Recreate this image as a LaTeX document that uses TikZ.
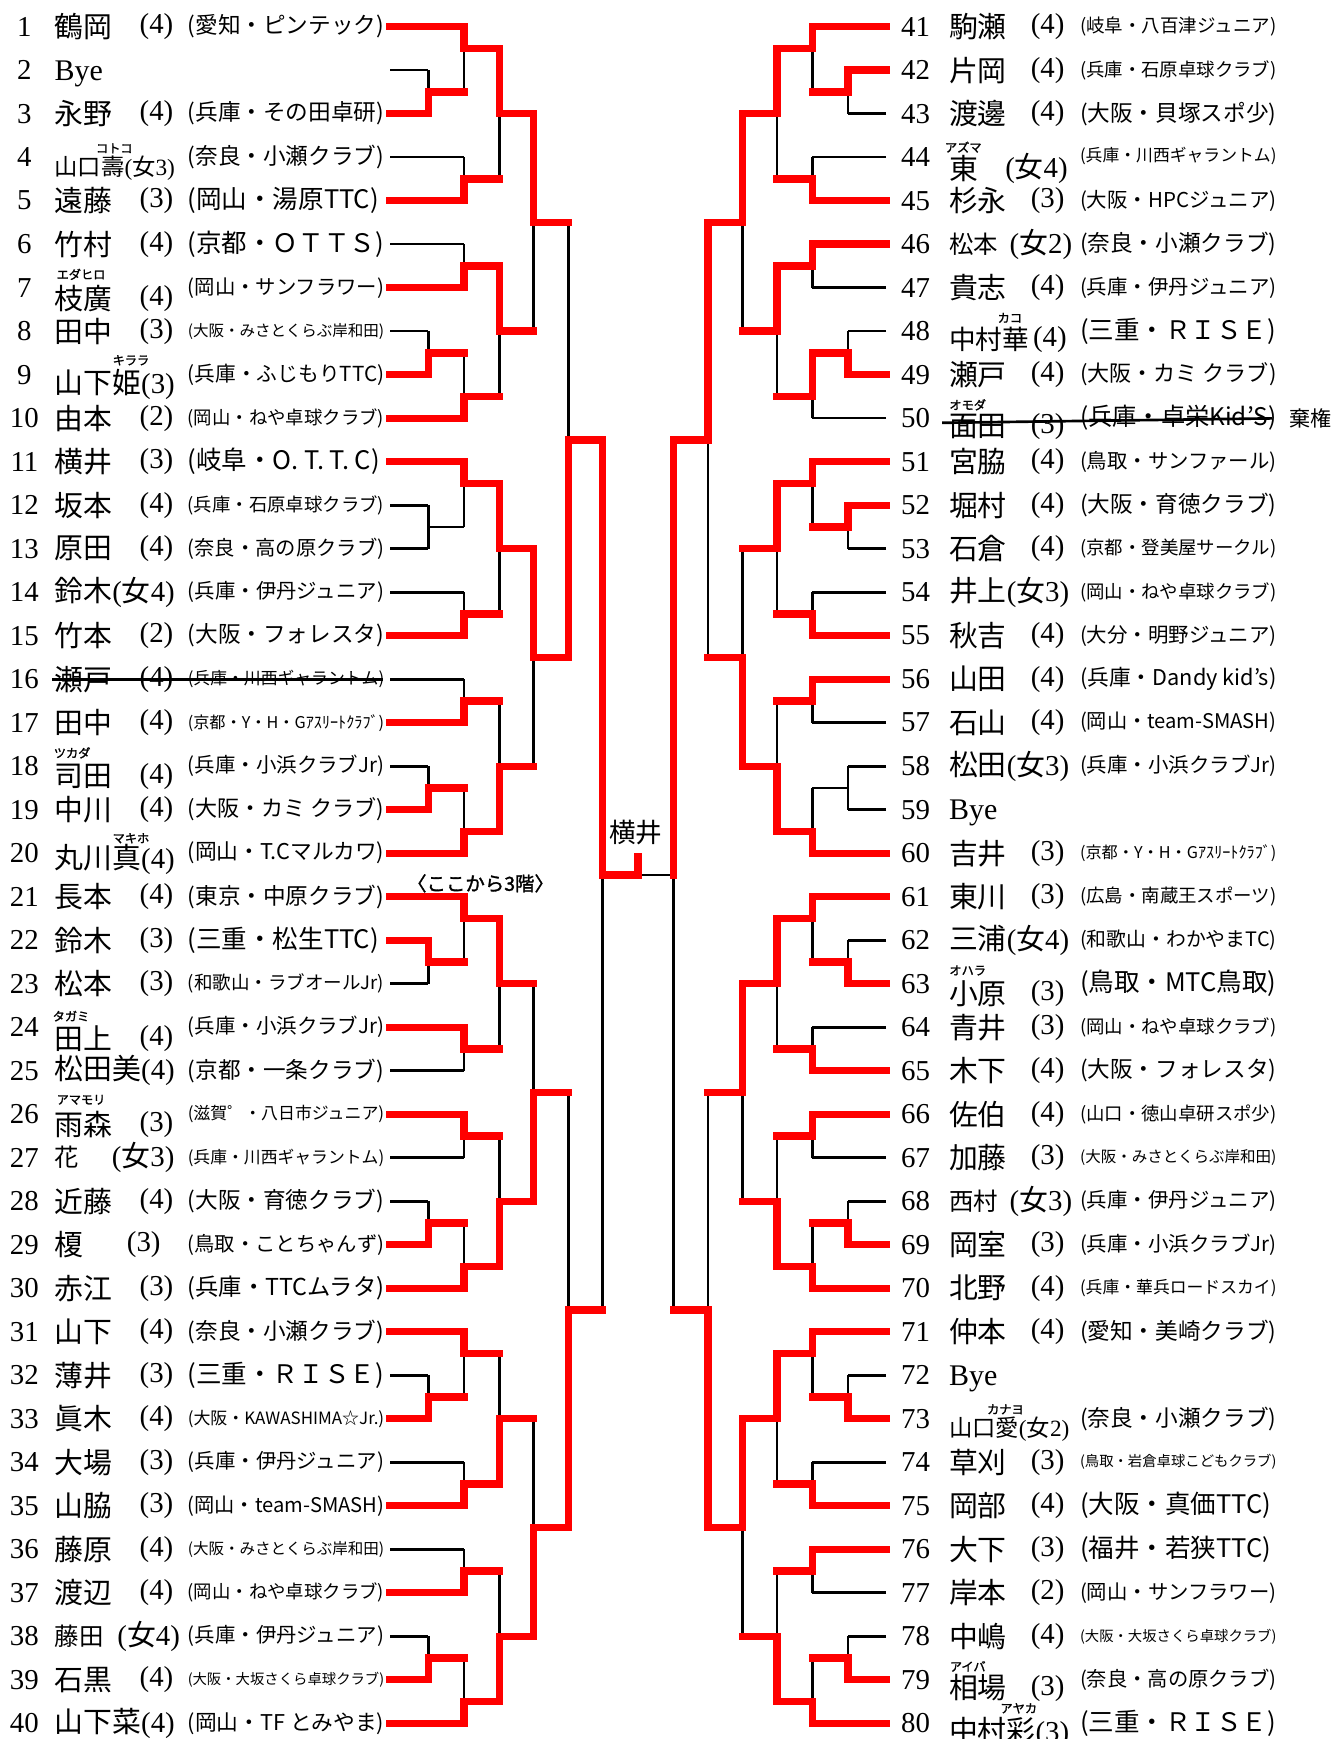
\documentclass[tikz,border=0pt]{standalone}
\usepackage{fontspec}
\usepackage{graphicx}
\setmainfont{Noto Sans CJK JP}
\newfontfamily\sr{Liberation Serif}
\newfontfamily\rbf[FakeBold=1.5]{Noto Sans CJK JP}
\pgfdeclarelayer{bg}
\pgfsetlayers{bg,main}
\newsavebox\clbox
\newcommand\fitclub[1]{\sbox\clbox{\fontsize{23}{26}\selectfont #1}\ifdim\wd\clbox>177pt\relax\resizebox{177pt}{!}{\usebox\clbox}\else\usebox\clbox\fi}
\newcommand\Yj[1]{24+19.6*(#1)}
\newcommand\fj[1]{{\sr(}{\rmfamily 女}{\sr #1)}}
\newcommand\LA{351.5}\newcommand\LB{386}\newcommand\LC{418}\newcommand\LD{450}
\newcommand\LE{481}\newcommand\LF{512}\newcommand\LG{543}
\newcommand\RA{798.5}\newcommand\RB{764}\newcommand\RC{732}\newcommand\RD{700}
\newcommand\RE{669}\newcommand\RF{638}\newcommand\RG{607}
\tikzset{
  num/.style={font=\sr\fontsize{26}{28}\selectfont, inner sep=0pt},
  nm/.style={font=\fontsize{26}{28}\selectfont, inner sep=0pt, anchor=west},
  sd/.style={font=\sr\fontsize{26}{28}\selectfont, inner sep=0pt},
  cl/.style={inner sep=0pt, anchor=west},
  rb/.style={font=\rbf\fontsize{11}{12}\selectfont, inner sep=0pt},
  byetxt/.style={font=\sr\fontsize{27}{28}\selectfont, inner sep=0pt, anchor=base west},
  redl/.style={line width=6.6pt, red, line cap=rect},
  blkl/.style={line width=2.4pt, black},
}
\newcommand\Edge[6]{%
  \ifx r#5\draw[redl] (#1,{\Yj{#3}}) -- (#2,{\Yj{#3}});%
  \else\begin{pgfonlayer}{bg}\draw[blkl] (#1,{\Yj{#3}}) -- (#2,{\Yj{#3}});\end{pgfonlayer}\fi
  \ifx r#6\draw[redl] (#2,{\Yj{#3}}) -- (#2,{\Yj{#4}});%
  \else\begin{pgfonlayer}{bg}\draw[blkl] (#2,{\Yj{#3}}) -- (#2,{\Yj{#4}});\end{pgfonlayer}\fi}
\newcommand\RowL[4]{\pgfmathsetmacro\yy{24+39.2*(#1-1)}%
  \node[num] (n#1) at (22,\yy) {#1};
  \node[nm] (a#1) at (49,\yy) {#2};
  \node[sd] (s#1) at (141,\yy) {#3};
  \node[cl] (c#1) at (169,\yy) {\fitclub{#4}};}
\newcommand\RowR[4]{\pgfmathsetmacro\yy{24+39.2*(#1-41)}%
  \node[num] (n#1) at (825,\yy) {#1};
  \node[nm] (a#1) at (855,\yy) {#2};
  \node[sd] (s#1) at (944,\yy) {#3};
  \node[cl] (c#1) at (973,\yy) {\fitclub{#4}};}
\newcommand\RubyL[8]{\pgfmathsetmacro\yy{24+39.2*(#1-1)}%
  \node[num] (n#1) at (22,\yy) {#1};
  \node[nm] (a#1) at (49,{\yy+#5}) {#2};
  \node[sd] (s#1) at (141,{\yy+#5}) {#3};
  \node[cl] (c#1) at (169,\yy) {\fitclub{#4}};
  \node[rb] (r#1) at (#7,{\yy+#8}) {#6};}
\newcommand\RubyR[8]{\pgfmathsetmacro\yy{24+39.2*(#1-41)}%
  \node[num] (n#1) at (825,\yy) {#1};
  \node[nm] (a#1) at (855,{\yy+#5}) {#2};
  \node[sd] (s#1) at (944,{\yy+#5}) {#3};
  \node[cl] (c#1) at (973,\yy) {\fitclub{#4}};
  \node[rb] (r#1) at (#7,{\yy+#8}) {#6};}
\begin{document}
\begin{tikzpicture}[x=1pt,y=-1pt]
\begin{pgfonlayer}{bg}\fill[white] (0,0) rectangle (1203,1567);\end{pgfonlayer}
\useasboundingbox (0,0) rectangle (1203,1567);
% ---------------- left bracket ----------------
\Edge{\LA}{\LB}{2}{3}{k}{k}
\Edge{\LA}{\LB}{4}{3}{r}{r}
\Edge{\LB}{\LC}{3}{1}{r}{k}
\Edge{\LA}{\LC}{0}{1}{r}{r}
\Edge{\LA}{\LC}{6}{7}{k}{k}
\Edge{\LA}{\LC}{8}{7}{r}{r}
\Edge{\LC}{\LD}{1}{4}{r}{r}
\Edge{\LC}{\LD}{7}{4}{r}{k}
\Edge{\LD}{\LE}{4}{9}{r}{r}
\Edge{\LA}{\LC}{10}{11}{k}{k}
\Edge{\LA}{\LC}{12}{11}{r}{r}
\Edge{\LA}{\LB}{14}{15}{k}{k}
\Edge{\LA}{\LB}{16}{15}{r}{r}
\Edge{\LB}{\LC}{15}{17}{r}{k}
\Edge{\LA}{\LC}{18}{17}{r}{r}
\Edge{\LC}{\LD}{11}{14}{r}{r}
\Edge{\LC}{\LD}{17}{14}{r}{k}
\Edge{\LD}{\LE}{14}{9}{r}{k}
\Edge{\LE}{\LF}{9}{19}{r}{k}
\Edge{\LA}{\LC}{20}{21}{r}{r}
\Edge{\LA}{\LB}{22}{23}{k}{k}
\Edge{\LA}{\LB}{24}{23}{k}{k}
\Edge{\LB}{\LC}{23}{21}{k}{k}
\Edge{\LA}{\LC}{26}{27}{k}{k}
\Edge{\LA}{\LC}{28}{27}{r}{r}
\Edge{\LC}{\LD}{21}{24}{r}{r}
\Edge{\LC}{\LD}{27}{24}{r}{k}
\Edge{\LD}{\LE}{24}{29}{r}{r}
\Edge{\LA}{\LC}{30}{31}{k}{k}
\Edge{\LA}{\LC}{32}{31}{r}{r}
\Edge{\LA}{\LB}{34}{35}{k}{k}
\Edge{\LA}{\LB}{36}{35}{r}{r}
\Edge{\LB}{\LC}{35}{37}{r}{k}
\Edge{\LA}{\LC}{38}{37}{r}{r}
\Edge{\LC}{\LD}{31}{34}{r}{k}
\Edge{\LC}{\LD}{37}{34}{r}{r}
\Edge{\LD}{\LE}{34}{29}{r}{k}
\Edge{\LE}{\LF}{29}{19}{r}{r}
\Edge{\LF}{\LG}{19}{39}{r}{r}
\Edge{\LA}{\LC}{40}{41}{r}{r}
\Edge{\LA}{\LB}{42}{43}{r}{r}
\Edge{\LA}{\LB}{44}{43}{k}{k}
\Edge{\LB}{\LC}{43}{41}{r}{k}
\Edge{\LA}{\LC}{46}{47}{r}{r}
\Edge{\LA}{\LC}{48}{47}{k}{k}
\Edge{\LC}{\LD}{41}{44}{r}{r}
\Edge{\LC}{\LD}{47}{44}{r}{k}
\Edge{\LD}{\LE}{44}{49}{r}{k}
\Edge{\LA}{\LC}{50}{51}{r}{r}
\Edge{\LA}{\LC}{52}{51}{k}{k}
\Edge{\LA}{\LB}{54}{55}{k}{k}
\Edge{\LA}{\LB}{56}{55}{r}{r}
\Edge{\LB}{\LC}{55}{57}{r}{k}
\Edge{\LA}{\LC}{58}{57}{r}{r}
\Edge{\LC}{\LD}{51}{54}{r}{k}
\Edge{\LC}{\LD}{57}{54}{r}{r}
\Edge{\LD}{\LE}{54}{49}{r}{r}
\Edge{\LE}{\LF}{49}{59}{r}{k}
\Edge{\LA}{\LC}{60}{61}{r}{r}
\Edge{\LA}{\LB}{62}{63}{k}{k}
\Edge{\LA}{\LB}{64}{63}{r}{r}
\Edge{\LB}{\LC}{63}{61}{r}{k}
\Edge{\LA}{\LC}{66}{67}{k}{k}
\Edge{\LA}{\LC}{68}{67}{r}{r}
\Edge{\LC}{\LD}{61}{64}{r}{k}
\Edge{\LC}{\LD}{67}{64}{r}{r}
\Edge{\LD}{\LE}{64}{69}{r}{k}
\Edge{\LA}{\LC}{70}{71}{k}{k}
\Edge{\LA}{\LC}{72}{71}{r}{r}
\Edge{\LA}{\LB}{74}{75}{k}{k}
\Edge{\LA}{\LB}{76}{75}{r}{r}
\Edge{\LB}{\LC}{75}{77}{r}{k}
\Edge{\LA}{\LC}{78}{77}{r}{r}
\Edge{\LC}{\LD}{71}{74}{r}{k}
\Edge{\LC}{\LD}{77}{74}{r}{r}
\Edge{\LD}{\LE}{74}{69}{r}{r}
\Edge{\LE}{\LF}{69}{59}{r}{r}
\Edge{\LF}{\LG}{59}{39}{r}{k}
% ---------------- right bracket ----------------
\Edge{\RA}{\RC}{0}{1}{r}{r}
\Edge{\RA}{\RB}{2}{3}{r}{r}
\Edge{\RA}{\RB}{4}{3}{k}{k}
\Edge{\RB}{\RC}{3}{1}{r}{k}
\Edge{\RA}{\RC}{6}{7}{k}{k}
\Edge{\RA}{\RC}{8}{7}{r}{r}
\Edge{\RC}{\RD}{1}{4}{r}{r}
\Edge{\RC}{\RD}{7}{4}{r}{k}
\Edge{\RD}{\RE}{4}{9}{r}{r}
\Edge{\RA}{\RC}{10}{11}{r}{r}
\Edge{\RA}{\RC}{12}{11}{k}{k}
\Edge{\RA}{\RB}{14}{15}{k}{k}
\Edge{\RA}{\RB}{16}{15}{r}{r}
\Edge{\RB}{\RC}{15}{17}{r}{r}
\Edge{\RA}{\RC}{18}{17}{k}{k}
\Edge{\RC}{\RD}{11}{14}{r}{r}
\Edge{\RC}{\RD}{17}{14}{r}{k}
\Edge{\RD}{\RE}{14}{9}{r}{k}
\Edge{\RE}{\RF}{9}{19}{r}{r}
\Edge{\RA}{\RC}{20}{21}{r}{r}
\Edge{\RA}{\RB}{22}{23}{r}{r}
\Edge{\RA}{\RB}{24}{23}{k}{k}
\Edge{\RB}{\RC}{23}{21}{r}{k}
\Edge{\RA}{\RC}{26}{27}{k}{k}
\Edge{\RA}{\RC}{28}{27}{r}{r}
\Edge{\RC}{\RD}{21}{24}{r}{r}
\Edge{\RC}{\RD}{27}{24}{r}{k}
\Edge{\RD}{\RE}{24}{29}{r}{k}
\Edge{\RA}{\RC}{30}{31}{r}{r}
\Edge{\RA}{\RC}{32}{31}{k}{k}
\Edge{\RA}{\RB}{34}{35}{k}{k}
\Edge{\RA}{\RB}{36}{35}{k}{k}
\Edge{\RB}{\RC}{35}{37}{k}{k}
\Edge{\RA}{\RC}{38}{37}{r}{r}
\Edge{\RC}{\RD}{31}{34}{r}{k}
\Edge{\RC}{\RD}{37}{34}{r}{r}
\Edge{\RD}{\RE}{34}{29}{r}{r}
\Edge{\RE}{\RF}{29}{19}{r}{k}
\Edge{\RF}{\RG}{19}{39}{r}{r}
\Edge{\RA}{\RC}{40}{41}{r}{r}
\Edge{\RA}{\RB}{42}{43}{k}{k}
\Edge{\RA}{\RB}{44}{43}{r}{r}
\Edge{\RB}{\RC}{43}{41}{r}{k}
\Edge{\RA}{\RC}{46}{47}{k}{k}
\Edge{\RA}{\RC}{48}{47}{r}{r}
\Edge{\RC}{\RD}{41}{44}{r}{r}
\Edge{\RC}{\RD}{47}{44}{r}{k}
\Edge{\RD}{\RE}{44}{49}{r}{r}
\Edge{\RA}{\RC}{50}{51}{r}{r}
\Edge{\RA}{\RC}{52}{51}{k}{k}
\Edge{\RA}{\RB}{54}{55}{k}{k}
\Edge{\RA}{\RB}{56}{55}{r}{r}
\Edge{\RB}{\RC}{55}{57}{r}{k}
\Edge{\RA}{\RC}{58}{57}{r}{r}
\Edge{\RC}{\RD}{51}{54}{r}{k}
\Edge{\RC}{\RD}{57}{54}{r}{r}
\Edge{\RD}{\RE}{54}{49}{r}{k}
\Edge{\RE}{\RF}{49}{59}{r}{k}
\Edge{\RA}{\RC}{60}{61}{r}{r}
\Edge{\RA}{\RB}{62}{63}{k}{k}
\Edge{\RA}{\RB}{64}{63}{r}{r}
\Edge{\RB}{\RC}{63}{61}{r}{k}
\Edge{\RA}{\RC}{66}{67}{k}{k}
\Edge{\RA}{\RC}{68}{67}{r}{r}
\Edge{\RC}{\RD}{61}{64}{r}{r}
\Edge{\RC}{\RD}{67}{64}{r}{k}
\Edge{\RD}{\RE}{64}{69}{r}{r}
\Edge{\RA}{\RC}{70}{71}{r}{r}
\Edge{\RA}{\RC}{72}{71}{k}{k}
\Edge{\RA}{\RB}{74}{75}{k}{k}
\Edge{\RA}{\RB}{76}{75}{r}{r}
\Edge{\RB}{\RC}{75}{77}{r}{k}
\Edge{\RA}{\RC}{78}{77}{r}{r}
\Edge{\RC}{\RD}{71}{74}{r}{k}
\Edge{\RC}{\RD}{77}{74}{r}{r}
\Edge{\RD}{\RE}{74}{69}{r}{k}
\Edge{\RE}{\RF}{69}{59}{r}{r}
\Edge{\RF}{\RG}{59}{39}{r}{k}
% ---------------- final ----------------
\draw[redl] (\LG,{\Yj{39}}) -- (575,{\Yj{39}}) -- (575,772);
\begin{pgfonlayer}{bg}\draw[blkl] (575,{\Yj{39}}) -- (\RG,{\Yj{39}});\end{pgfonlayer}
\node[font=\fontsize{24}{26}\selectfont, inner sep=0pt] (win) at (573,750) {横井};
\node[font=\rbf\fontsize{17.5}{19}\selectfont, inner sep=0pt] (floor) at (433,796) {〈ここから3階〉};
% ---------------- left entries ----------------
\RowL{1}{鶴岡}{(4)}{(愛知・ピンテック)}
\pgfmathsetmacro\yy{\Yj{2}}
\node[num] (n2) at (22,\yy) {2};
\node[byetxt] (a2) at (49,{\yy+9}) {Bye};
\RowL{3}{永野}{(4)}{(兵庫・その田卓研)}
\pgfmathsetmacro\yy{\Yj{6}}
\node[num] (n4) at (22,\yy) {4};
\node[nm, font=\fontsize{21}{23}\selectfont] (a4) at (49,{\yy+10}) {山口壽\fj{3}};
\node[rb] (r4) at (103,{\yy-8}) {コトコ};
\node[cl] (c4) at (169,\yy) {\fitclub{(奈良・小瀬クラブ)}};
\RowL{5}{遠藤}{(3)}{(岡山・湯原TTC)}
\RowL{6}{竹村}{(4)}{(京都・ＯＴＴＳ)}
\RubyL{7}{枝廣}{(4)}{(岡山・サンフラワー)}{10}{エダヒロ}{73}{-12}
\RowL{8}{田中}{(3)}{(大阪・みさとくらぶ岸和田)}
\RubyL{9}{山下姫{\sr(3)}}{}{(兵庫・ふじもりTTC)}{9}{キララ}{118}{-13}
\RowL{10}{由本}{(2)}{(岡山・ねや卓球クラブ)}
\RowL{11}{横井}{(3)}{(岐阜・O. T. T. C)}
\RowL{12}{坂本}{(4)}{(兵庫・石原卓球クラブ)}
\RowL{13}{原田}{(4)}{(奈良・高の原クラブ)}
\RowL{14}{鈴木\fj{4}}{}{(兵庫・伊丹ジュニア)}
\RowL{15}{竹本}{(2)}{(大阪・フォレスタ)}
\RowL{16}{瀬戸}{(4)}{(兵庫・川西ギャラントム)}
\draw[blkl] (47,{\Yj{30}}) -- (345,{\Yj{30}});
\RowL{17}{田中}{(4)}{(京都・Y・H・Gｱｽﾘｰﾄｸﾗﾌﾞ)}
\RubyL{18}{司田}{(4)}{(兵庫・小浜クラブJr)}{9}{ツカダ}{65}{-12}
\RowL{19}{中川}{(4)}{(大阪・カミ クラブ)}
\RubyL{20}{丸川真{\sr(4)}}{}{(岡山・T.Cマルカワ)}{6}{マキホ}{118}{-13.5}
\RowL{21}{長本}{(4)}{(東京・中原クラブ)}
\RowL{22}{鈴木}{(3)}{(三重・松生TTC)}
\RowL{23}{松本}{(3)}{(和歌山・ラブオールJr)}
\RubyL{24}{田上}{(4)}{(兵庫・小浜クラブJr)}{10}{タガミ}{64}{-10}
\RowL{25}{松田美{\sr(4)}}{}{(京都・一条クラブ)}
\RubyL{26}{雨森}{(3)}{(滋賀゜・八日市ジュニア)}{9}{アマモリ}{73}{-13}
\pgfmathsetmacro\yy{\Yj{52}}
\node[num] (n27) at (22,\yy) {27};
\node[nm, font=\fontsize{22}{24}\selectfont] (a27) at (49,\yy) {花};
\node[sd] (s27) at (129,\yy) {\fj{3}};
\node[cl] (c27) at (169,\yy) {\fitclub{(兵庫・川西ギャラントム)}};
\RowL{28}{近藤}{(4)}{(大阪・育徳クラブ)}
\pgfmathsetmacro\yy{\Yj{56}}
\node[num] (n29) at (22,\yy) {29};
\node[nm] (a29) at (49,\yy) {榎};
\node[sd] (s29) at (129.5,\yy) {(3)};
\node[cl] (c29) at (169,\yy) {\fitclub{(鳥取・ことちゃんず)}};
\RowL{30}{赤江}{(3)}{(兵庫・TTCムラタ)}
\RowL{31}{山下}{(4)}{(奈良・小瀬クラブ)}
\RowL{32}{薄井}{(3)}{(三重・ＲＩＳＥ)}
\RowL{33}{眞木}{(4)}{(大阪・KAWASHIMA☆Jr.)}
\RowL{34}{大場}{(3)}{(兵庫・伊丹ジュニア)}
\RowL{35}{山脇}{(3)}{(岡山・team-SMASH)}
\RowL{36}{藤原}{(4)}{(大阪・みさとくらぶ岸和田)}
\RowL{37}{渡辺}{(4)}{(岡山・ねや卓球クラブ)}
\pgfmathsetmacro\yy{\Yj{74}}
\node[num] (n38) at (22,\yy) {38};
\node[nm, font=\fontsize{22}{24}\selectfont] (a38) at (49,\yy) {藤田};
\node[sd] (s38) at (134,\yy) {\fj{4}};
\node[cl] (c38) at (169,\yy) {\fitclub{(兵庫・伊丹ジュニア)}};
\RowL{39}{石黒}{(4)}{(大阪・大坂さくら卓球クラブ)}
\RowL{40}{山下菜{\sr(4)}}{}{(岡山・TF とみやま)}
% ---------------- right entries ----------------
\RowR{41}{駒瀬}{(4)}{(岐阜・八百津ジュニア)}
\RowR{42}{片岡}{(4)}{(兵庫・石原卓球クラブ)}
\RowR{43}{渡邊}{(4)}{(大阪・貝塚スポ少)}
\pgfmathsetmacro\yy{\Yj{6}}
\node[num] (n44) at (825,\yy) {44};
\node[nm] (a44) at (855,{\yy+10.5}) {東};
\node[sd] (s44) at (934,{\yy+10.5}) {\fj{4}};
\node[rb] (r44) at (868,{\yy-9}) {アズマ};
\node[cl] (c44) at (973,{\yy-1.5}) {\fitclub{(兵庫・川西ギャラントム)}};
\RowR{45}{杉永}{(3)}{(大阪・HPCジュニア)}
\pgfmathsetmacro\yy{\Yj{10}}
\node[num] (n46) at (825,\yy) {46};
\node[nm, font=\fontsize{22}{24}\selectfont] (a46) at (855,\yy) {松本};
\node[sd] (s46) at (938,\yy) {\fj{2}};
\node[cl] (c46) at (973,\yy) {\fitclub{(奈良・小瀬クラブ)}};
\RowR{47}{貴志}{(4)}{(兵庫・伊丹ジュニア)}
\pgfmathsetmacro\yy{\Yj{14}}
\node[num] (n48) at (825,\yy) {48};
\node[nm, font=\fontsize{24}{26}\selectfont] (a48) at (855,{\yy+7.5}) {中村華};
\node[sd] (s48) at (946,{\yy+7.5}) {(4)};
\node[rb] (r48) at (910,{\yy-12}) {カコ};
\node[cl] (c48) at (973,\yy) {\fitclub{(三重・ＲＩＳＥ)}};
\RowR{49}{瀬戸}{(4)}{(大阪・カミ クラブ)}
\RubyR{50}{面田}{(3)}{(兵庫・卓栄Kid'S)}{7.5}{オモダ}{872}{-12}
\draw[blkl] (849,381) -- (1146,377);
\node[font=\fontsize{19}{20}\selectfont, inner sep=0pt, anchor=west] (kiken) at (1162,{\Yj{18}}) {棄権};
\RowR{51}{宮脇}{(4)}{(鳥取・サンファール)}
\RowR{52}{堀村}{(4)}{(大阪・育徳クラブ)}
\RowR{53}{石倉}{(4)}{(京都・登美屋サークル)}
\RowR{54}{井上\fj{3}}{}{(岡山・ねや卓球クラブ)}
\RowR{55}{秋吉}{(4)}{(大分・明野ジュニア)}
\RowR{56}{山田}{(4)}{(兵庫・Dandy kid's)}
\RowR{57}{石山}{(4)}{(岡山・team-SMASH)}
\RowR{58}{松田\fj{3}}{}{(兵庫・小浜クラブJr)}
\pgfmathsetmacro\yy{\Yj{36}}
\node[num] (n59) at (825,\yy) {59};
\node[byetxt] (a59) at (855,{\yy+9}) {Bye};
\RowR{60}{吉井}{(3)}{(京都・Y・H・Gｱｽﾘｰﾄｸﾗﾌﾞ)}
\RowR{61}{東川}{(3)}{(広島・南蔵王スポーツ)}
\RowR{62}{三浦\fj{4}}{}{(和歌山・わかやまTC)}
\RubyR{63}{小原}{(3)}{(鳥取・MTC鳥取)}{9}{オハラ}{872}{-12}
\RowR{64}{青井}{(3)}{(岡山・ねや卓球クラブ)}
\RowR{65}{木下}{(4)}{(大阪・フォレスタ)}
\RowR{66}{佐伯}{(4)}{(山口・徳山卓研スポ少)}
\RowR{67}{加藤}{(3)}{(大阪・みさとくらぶ岸和田)}
\pgfmathsetmacro\yy{\Yj{54}}
\node[num] (n68) at (825,\yy) {68};
\node[nm, font=\fontsize{22}{24}\selectfont] (a68) at (855,\yy) {西村};
\node[sd] (s68) at (938,\yy) {\fj{3}};
\node[cl] (c68) at (973,\yy) {\fitclub{(兵庫・伊丹ジュニア)}};
\RowR{69}{岡室}{(3)}{(兵庫・小浜クラブJr)}
\RowR{70}{北野}{(4)}{(兵庫・華兵ロードスカイ)}
\RowR{71}{仲本}{(4)}{(愛知・美崎クラブ)}
\pgfmathsetmacro\yy{\Yj{62}}
\node[num] (n72) at (825,\yy) {72};
\node[byetxt] (a72) at (855,{\yy+9}) {Bye};
\pgfmathsetmacro\yy{\Yj{64}}
\node[num] (n73) at (825,\yy) {73};
\node[nm, font=\fontsize{21}{23}\selectfont] (a73) at (855,{\yy+9.5}) {山口愛\fj{2}};
\node[rb] (r73) at (906,{\yy-8.5}) {カナヨ};
\node[cl] (c73) at (973,\yy) {\fitclub{(奈良・小瀬クラブ)}};
\RowR{74}{草刈}{(3)}{(鳥取・岩倉卓球こどもクラブ)}
\RowR{75}{岡部}{(4)}{(大阪・真価TTC)}
\RowR{76}{大下}{(3)}{(福井・若狭TTC)}
\RowR{77}{岸本}{(2)}{(岡山・サンフラワー)}
\RowR{78}{中嶋}{(4)}{(大阪・大坂さくら卓球クラブ)}
\RubyR{79}{相場}{(3)}{(奈良・高の原クラブ)}{7.5}{アイバ}{872}{-12}
\RubyR{80}{中村彩{\sr(3)}}{}{(三重・ＲＩＳＥ)}{8}{アヤカ}{918}{-13.5}
\end{tikzpicture}
\end{document}
